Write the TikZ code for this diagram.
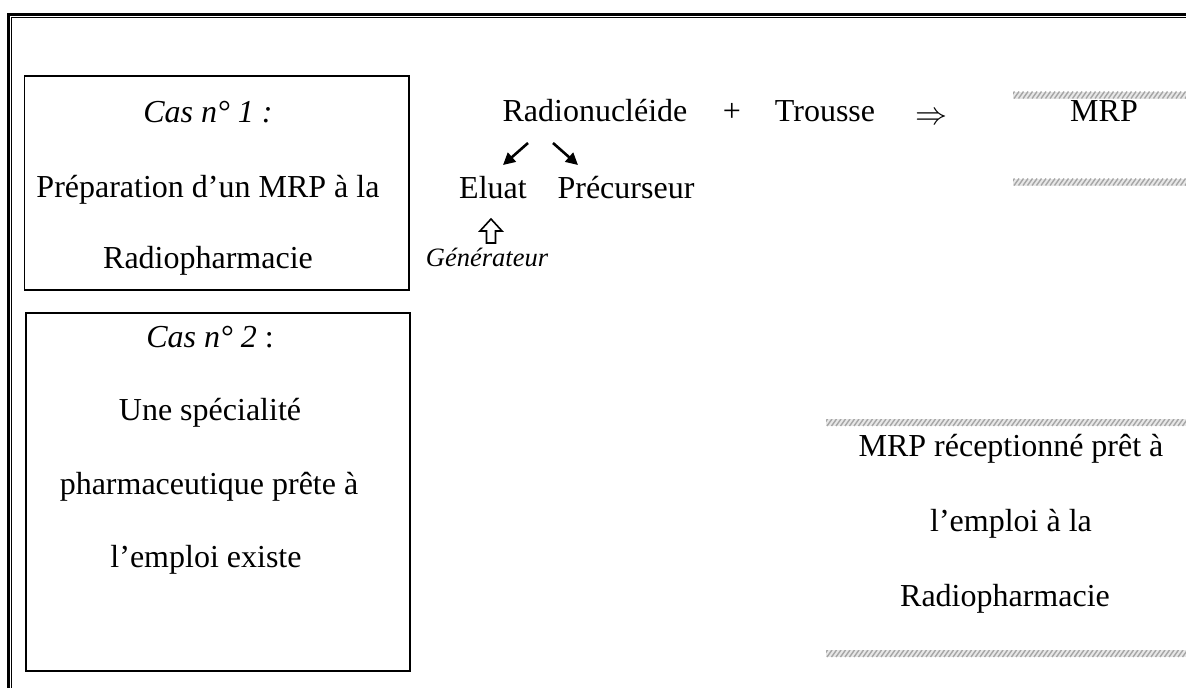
\RequirePackage{fix-cm}
\documentclass[tikz,border=0pt]{standalone}
\usepackage{fontspec}
\setmainfont{Liberation Serif}
\usetikzlibrary{arrows.meta}
\tikzset{
  txt/.style={anchor=base, inner sep=0pt, font=\fontsize{32}{38}\selectfont},
  itx/.style={anchor=base, inner sep=0pt, font=\fontsize{32}{38}\selectfont\itshape},
  smallit/.style={anchor=base, inner sep=0pt, font=\fontsize{26.5}{32}\selectfont\itshape},
  casebox/.style={draw, line width=1.7pt, inner sep=0pt, anchor=north west},
  hatch/.style={draw=gray!70, line width=1.4pt},
  hatchbg/.style={fill=gray!18},
  diag/.style={line width=2.6pt, -{Triangle[length=12pt,width=12pt]}},
  hollow/.style={draw, line width=1.6pt, line join=miter, fill=white},
  outerline/.style={line width=2.7pt},
  innerline/.style={line width=1.3pt},
}
\newcommand\hatchstrip[4]{%
  \begin{scope}
    \clip (#1,#2) rectangle (#3,#4);
    \fill[hatchbg] (#1,#2) rectangle (#3,#4);
    \foreach \k in {0,4.5,...,400} {\draw[hatch] (#1+\k-8,#4) -- ++(5,#2-#4);}
  \end{scope}}
\begin{document}
\begin{tikzpicture}[x=1pt,y=-1pt]
\useasboundingbox (0,0) rectangle (1186,688);
\clip (0,0) rectangle (1186,688);
\fill[white] (0,0) rectangle (1186,688);
% page border (double line)
\draw[outerline] (8.7,700) -- (8.7,14.7) -- (1200,14.7);
\draw[innerline] (11.7,700) -- (11.7,17.7) -- (1200,17.7);
% case boxes
\node[casebox, minimum width=384.3, minimum height=214] (box1) at (23.7,75) {};
\node[casebox, minimum width=384, minimum height=358] (box2) at (25,312) {};
% box 1 text
\node[itx] (c1a) at (208,122) {Cas n° 1 :};
\node[txt] (c1b) at (208,197) {Préparation d’un MRP à la};
\node[txt] (c1c) at (208,268) {Radiopharmacie};
% box 2 text
\node[txt] (c2a) at (210,347) {\itshape Cas n° 2\upshape\ :};
\node[txt] (c2b) at (210,420) {Une spécialité};
\node[txt] (c2c) at (209,494) {pharmaceutique prête à};
\node[txt] (c2d) at (206,567) {l’emploi existe};
% equation line
\node[txt] (radio) at (595,121) {Radionucléide};
\node[txt] (plus) at (732,121) {+};
\node[txt] (trousse) at (825,121) {Trousse};
\node[txt] (impl) at (931,124) {$\Rightarrow$};
\node[txt] (mrp) at (1104,121) {MRP};
\node[txt] (eluat) at (493,198) {Eluat};
\node[txt] (precu) at (626,198) {Précurseur};
\node[smallit] (gene) at (487,266) {Générateur};
% diagonal arrows
\coordinate (a1s) at (528,143);
\coordinate (a1e) at (503,165);
\coordinate (a2s) at (553,143);
\coordinate (a2e) at (578,165);
\draw[diag] (a1s) -- (a1e);
\draw[diag] (a2s) -- (a2e);
% hollow up arrow
\draw[hollow] (491,219) -- (502,231) -- (495.5,231) -- (495.5,243) -- (486.5,243) -- (486.5,231) -- (480,231) -- cycle;
% MRP frame strips
\hatchstrip{1013}{91.5}{1200}{98.5}
\hatchstrip{1013}{178.5}{1200}{185.5}
% received MRP
\hatchstrip{826}{419}{1200}{426}
\hatchstrip{826}{650}{1200}{657}
\node[txt] (r1) at (1011,456) {MRP réceptionné prêt à};
\node[txt] (r2) at (1011,531) {l’emploi à la};
\node[txt] (r3) at (1005,606) {Radiopharmacie};
\end{tikzpicture}
\end{document}
